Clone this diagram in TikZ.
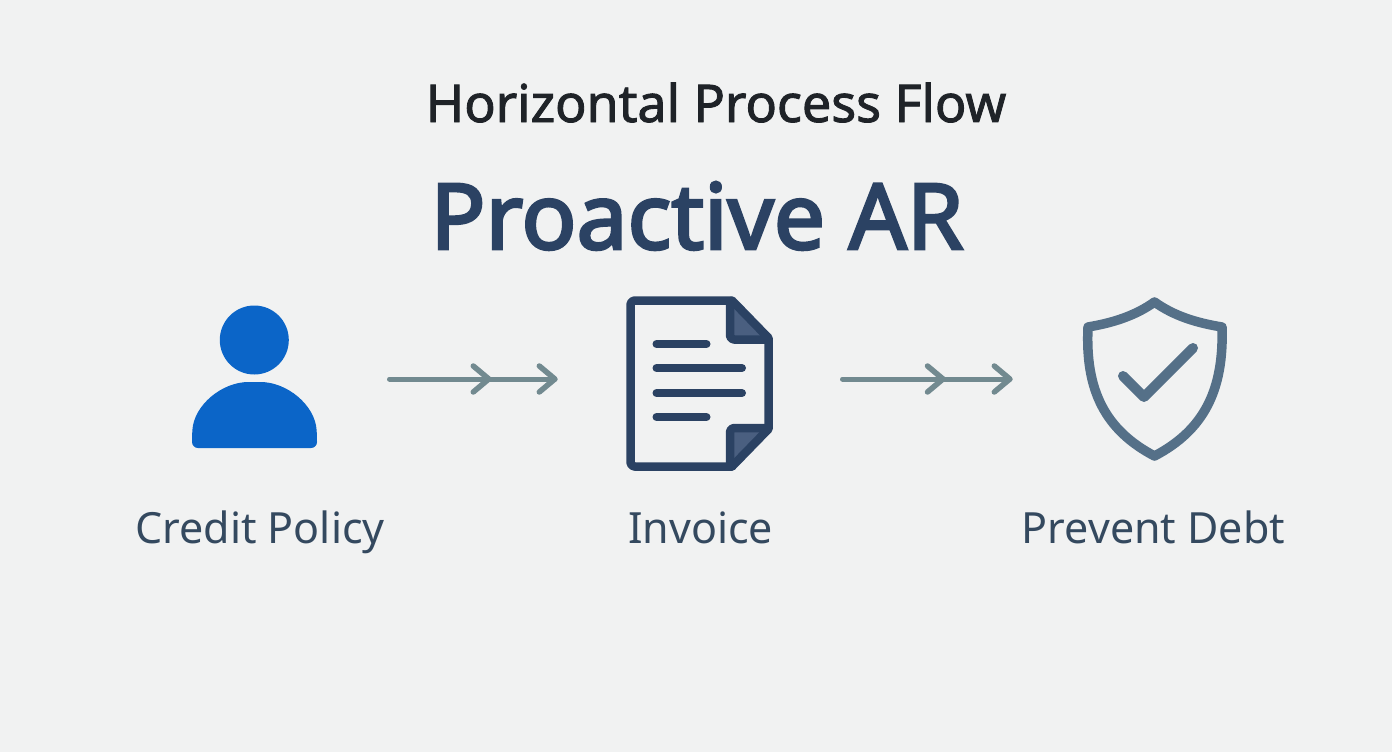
\documentclass[tikz,border=0pt]{standalone}
\usepackage{fontspec}
\setmainfont{Noto Sans}
\newcommand{\strokedtext}[2]{\special{pdf:code 2 Tr #1 w}#2\special{pdf:code 0 Tr}}
\usetikzlibrary{decorations.markings}
\definecolor{bgc}{HTML}{F1F2F2}
\definecolor{titlec}{HTML}{1F2328}
\definecolor{navy}{HTML}{2B4263}
\definecolor{labelc}{HTML}{34495F}
\definecolor{flowc}{HTML}{728A90}
\definecolor{personc}{HTML}{0B65C8}
\definecolor{foldc}{HTML}{4A5F80}
\definecolor{shieldc}{HTML}{557088}
\tikzset{
  label text/.style={anchor=base,text=labelc,font=\fontsize{43}{50}\selectfont,inner sep=0pt},
  icon box/.style={inner sep=0pt,outer sep=0pt,minimum height=2pt},
  chevron/.style={draw=flowc,line width=5.5pt,line cap=round,line join=round},
  flow/.style={draw=flowc,line width=5pt,line cap=round,
    postaction={decorate},
    decoration={markings,
      mark=at position 0.6 with {\draw[chevron] (-15.5pt,13pt) -- (0pt,0pt) -- (-15.5pt,-13pt);},
      mark=at position 0.999 with {\draw[chevron] (-15.5pt,13pt) -- (0pt,0pt) -- (-15.5pt,-13pt);}}},
  docline/.style={draw=navy,line width=8.5pt,line cap=round,line join=round}
}
\begin{document}
\begin{tikzpicture}[x=1pt,y=-1pt]
\fill[bgc] (0,0) rectangle (1392,752);
\useasboundingbox (0,0) rectangle (1392,752);
% titles
\node[anchor=base,text=titlec,inner sep=0pt,font=\fontsize{52}{60}\selectfont] (title) at (716,122) {\strokedtext{0.9}{Horizontal Process Flow}};
\node[anchor=base,text=navy,inner sep=0pt,font=\fontsize{91}{100}\selectfont] (main) at (697,249) {\strokedtext{2.8}{Proactive AR}};
% icon anchors
\node[icon box,minimum width=125pt] (person) at (254.5,379) {};
\node[icon box,minimum width=147pt] (doc) at (699.5,379) {};
\node[icon box,minimum width=144pt] (shield) at (1155,379) {};
% person
\fill[personc] (254.3,340) circle (34.5);
\fill[personc,rounded corners=6pt] (192,448) -- (192,436)
  .. controls (194,405) and (222,382) .. (254.5,382)
  .. controls (287,382) and (315,405) .. (317,436) -- (317,448) -- cycle;
% document
\fill[foldc] (730,302) -- (768,339) -- (730,339) -- cycle;
\fill[foldc] (730,428) -- (768,428) -- (730,466) -- cycle;
\draw[docline,rounded corners=4pt] (730.5,300.5) -- (630.5,300.5) -- (630.5,466.5) -- (732,466.5);
\draw[docline] (732,300.5) -- (768.5,338) -- (768.5,429) -- (732,466.5);
\draw[docline,rounded corners=4pt] (730,302) -- (730,339.5) -- (768,339.5);
\draw[docline,rounded corners=4pt] (730,465) -- (730,428) -- (768,428);
\draw[docline,line width=8pt] (656.5,344) -- (706.5,344);
\draw[docline,line width=8pt] (656.5,368) -- (742,368);
\draw[docline,line width=8pt] (656.5,393) -- (742,393);
\draw[docline,line width=8pt] (656.5,417) -- (706.5,417);
% shield
\draw[shieldc,line width=9.5pt,line join=round]
  (1154.5,302) .. controls (1135,316) and (1112,323) .. (1088,327)
  .. controls (1085,390) and (1105,430) .. (1154.5,456)
  .. controls (1204,430) and (1224,390) .. (1222,327)
  .. controls (1197,323) and (1174,316) .. (1154.5,302) -- cycle;
\draw[shieldc,line width=10pt,line cap=round,line join=round] (1123,376) -- (1144,397) -- (1193,348);
% connectors
\draw[flow] ([xshift=72.5pt]person.east) -- ([xshift=-71pt]doc.west);
\draw[flow] ([xshift=69.5pt]doc.east) -- ([xshift=-73pt]shield.west);
% labels
\node[label text] (l1) at (260,543) {Credit Policy};
\node[label text] (l2) at (700.5,543) {Invoice};
\node[label text] (l3) at (1153.5,543) {Prevent Debt};
\end{tikzpicture}
\end{document}
